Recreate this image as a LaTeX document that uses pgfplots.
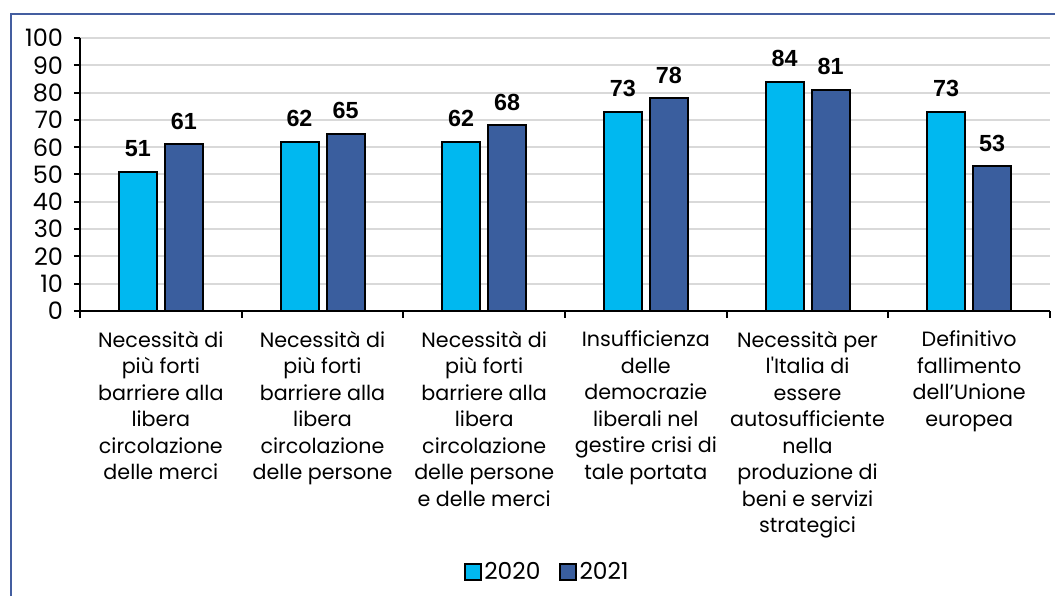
\documentclass[border=0pt]{standalone}
\usepackage{fontspec}
\setmainfont{Poppins}
\newfontfamily\labfont{Liberation Sans}
\usepackage{pgfplots}
\pgfplotsset{compat=1.18}
\definecolor{c2020}{RGB}{0,184,240}
\definecolor{c2021}{RGB}{58,94,158}
\definecolor{bord}{RGB}{68,94,160}
\definecolor{gridc}{RGB}{217,217,217}
\begin{document}
\begin{tikzpicture}
\useasboundingbox (0,0) rectangle (791.25pt,447pt);
\fill[white] (0,0) rectangle (791.25pt,447pt);
\draw[bord, line width=1.5pt] (8.25pt,0) -- (8.25pt,436.5pt) -- (791.25pt,436.5pt);
\begin{axis}[
  at={(60pt,213.75pt)}, anchor=south west,
  scale only axis, width=727.5pt, height=204.75pt,
  xmin=-0.5, xmax=5.5, ymin=0, ymax=100,
  ybar=6pt, bar width=28.5pt,
  axis lines*=left,
  axis line style={black, line width=1.8pt},
  ytick={0,10,...,100},
  xtick={0,...,5},
  major x tick style={draw=none},
  minor xtick={-0.5,0.5,...,5.5},
  minor tick length=5pt,
  major tick length=4.5pt,
  tick align=outside,
  tick style={black, line width=1.5pt},
  ymajorgrids, grid style={gridc, line width=1.5pt},
  /pgf/number format/assume math mode=true,
  yticklabel style={font=\fontsize{18}{19}\selectfont, inner sep=0pt, xshift=-8pt},
  xticklabel style={font=\fontsize{15.5}{19.9}\selectfont, align=center, anchor=north, yshift=-7pt},
  xticklabels={
    {Necessità di\\più forti\\barriere alla\\libera\\circolazione\\delle merci},
    {Necessità di\\più forti\\barriere alla\\libera\\circolazione\\delle persone},
    {Necessità di\\più forti\\barriere alla\\libera\\circolazione\\delle persone\\e delle merci},
    {Insufficienza\\delle\\democrazie\\liberali nel\\gestire crisi di\\tale portata},
    {Necessità per\\l\textquotesingle Italia di\\essere\\autosufficiente\\nella\\produzione di\\beni e servizi\\strategici},
    {Definitivo\\fallimento\\dell’Unione\\europea}},
  nodes near coords,
  nodes near coords style={font=\labfont\bfseries\fontsize{17.5}{19}\selectfont, black, yshift=7pt},
  legend style={at={(0.482,-0.956)}, anchor=center, draw=none, legend columns=2,
    font=\fontsize{17.5}{19}\selectfont, /tikz/every even column/.append style={column sep=12pt}},
  legend image code/.code={\draw[#1, line width=1.3pt] (0pt,-6pt) rectangle (12pt,6pt);},
]
\addplot[fill=c2020, draw=black, line width=1.5pt] coordinates {(0,51) (1,62) (2,62) (3,73) (4,84) (5,73)};
\addplot[fill=c2021, draw=black, line width=1.5pt] coordinates {(0,61) (1,65) (2,68) (3,78) (4,81) (5,53)};
\legend{2020,2021}
\end{axis}
\end{tikzpicture}
\end{document}
